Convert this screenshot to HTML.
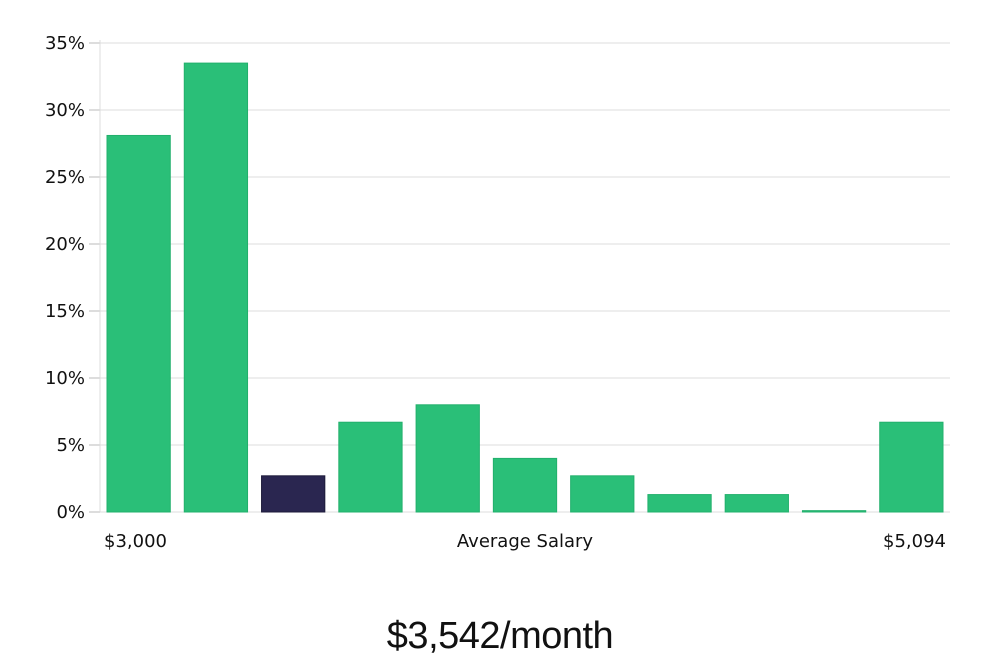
<!DOCTYPE html>
<html><head><meta charset="utf-8"><style>
body{margin:0;background:#fff;width:1000px;height:660px;overflow:hidden}
svg text{font-family:"DejaVu Sans","Liberation Sans",sans-serif;fill:#111}
</style></head><body>
<svg id="chart" width="1000" height="660" xmlns="http://www.w3.org/2000/svg">
<g id="grid"></g>
<g id="yaxis"></g>
<g id="bars"></g>
<text x="104" y="547" font-size="18">$3,000</text>
<text x="525" y="547" font-size="18" text-anchor="middle">Average Salary</text>
<text x="946" y="547" font-size="18" text-anchor="end">$5,094</text>
<text x="500" y="648" font-size="38" text-anchor="middle" style="font-family:'Liberation Sans Narrow','Liberation Sans',sans-serif;letter-spacing:-0.5px">$3,542/month</text>
</svg>
<script>
const values = [28.1, 33.5, 2.7, 6.7, 8.0, 4.0, 2.7, 1.3, 1.3, 0.1, 6.7];
const highlight = [false, false, true, false, false, false, false, false, false, false, false];
const yTicks = [0, 5, 10, 15, 20, 25, 30, 35];
const yTickLabels = ["0%", "5%", "10%", "15%", "20%", "25%", "30%", "35%"];
const NS = "http://www.w3.org/2000/svg";
const x0 = 100, x1 = 950, yBase = 512, yTop = 43, yMax = 35;
const y = v => yBase - (v / yMax) * (yBase - yTop);
const step = (x1 - x0) / values.length;
const x = i => x0 + i * step + 7;
const bw = step - 14;
const grid = document.getElementById('grid'), yaxis = document.getElementById('yaxis'), bars = document.getElementById('bars');
yTicks.forEach((t, i) => {
  const l = document.createElementNS(NS, 'line');
  
  
  l.setAttribute('x1', x0); l.setAttribute('x2', x1);
  l.setAttribute('y1', y(t)); l.setAttribute('y2', y(t));
  l.setAttribute('stroke', '#dcdcdc'); l.setAttribute('stroke-width', '1');
  grid.appendChild(l);
  const tk = document.createElementNS(NS, 'line');
  
  
  tk.setAttribute('x1', 89); tk.setAttribute('x2', x0);
  tk.setAttribute('y1', y(t)); tk.setAttribute('y2', y(t));
  tk.setAttribute('stroke', '#bbb');
  yaxis.appendChild(tk);
  const tx = document.createElementNS(NS, 'text');
  
  
  tx.setAttribute('x', 85); tx.setAttribute('y', y(t) + 6);
  tx.setAttribute('text-anchor', 'end'); tx.setAttribute('font-size', '18');
  tx.textContent = yTickLabels[i];
  yaxis.appendChild(tx);
});
const ax = document.createElementNS(NS, 'line');


ax.setAttribute('x1', x0); ax.setAttribute('x2', x0); ax.setAttribute('y1', 40); ax.setAttribute('y2', yBase);
ax.setAttribute('stroke', '#dcdcdc');
yaxis.appendChild(ax);
values.forEach((v, i) => {
  const r = document.createElementNS(NS, 'rect');
  
  
  const top = y(v);
  r.setAttribute('x', x(i)); r.setAttribute('y', top);
  r.setAttribute('width', bw); r.setAttribute('height', Math.max(1, yBase - top));
  r.setAttribute('fill', highlight[i] ? '#2a2650' : '#2abf78');
  r.setAttribute('stroke', highlight[i] ? '#1c1a3a' : '#22b06c');
  r.setAttribute('stroke-width', '1');
  bars.appendChild(r);
});
</script>
</body></html>
